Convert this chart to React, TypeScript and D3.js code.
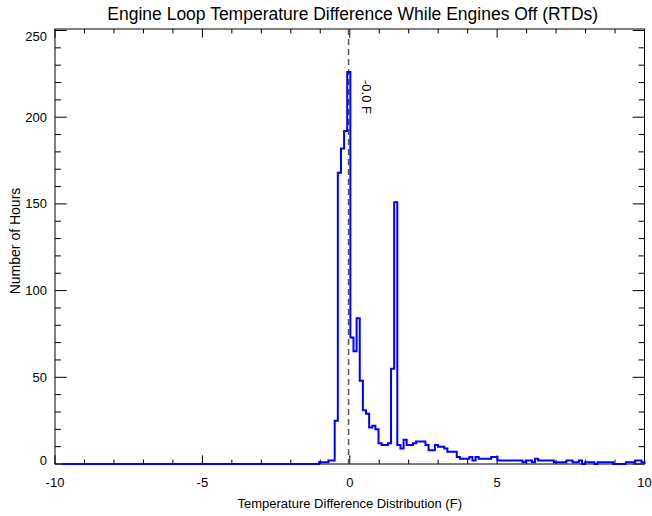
import React, { useEffect, useRef } from 'react';
import * as d3 from 'd3';

// histogram bins (F) and hours per bin
const binStart = -9.75;
const binWidth = 0.1062;
const hours = [
  // -9.75 .. -1.04 : empty
  0, 0, 0, 0, 0, 0, 0, 0, 0, 0, 0, 0, 0, 0, 0, 0, 0, 0, 0, 0,
  0, 0, 0, 0, 0, 0, 0, 0, 0, 0, 0, 0, 0, 0, 0, 0, 0, 0, 0, 0,
  0, 0, 0, 0, 0, 0, 0, 0, 0, 0, 0, 0, 0, 0, 0, 0, 0, 0, 0, 0,
  0, 0, 0, 0, 0, 0, 0, 0, 0, 0, 0, 0, 0, 0, 0, 0, 0, 0, 0, 0,
  0, 0,
  // around zero
  1, 1, 1, 2, 2, 25, 168, 182, 192, 226,
  73, 65, 84, 48, 31, 29, 21, 22, 20, 12,
  11, 11, 12, 55, 151,
  // tail
  11, 9, 14, 11, 11, 12, 13, 13, 13, 11,
  8, 8, 11, 10, 10, 9, 7, 7, 7, 4,
  3, 3, 3, 4, 2, 4, 3, 3, 3, 3,
  4, 4, 2, 2, 2, 2, 2, 2, 2, 2,
  1, 2, 2, 1, 3, 2, 2, 2, 2, 2,
  1, 1, 1, 1, 2, 2, 1, 1, 2, 0,
  1, 1, 1, 0, 1, 1, 1, 1, 1, 0,
  0, 0, 0, 1, 1, 1, 2, 2, 1,
];

const xMajorTicks = [-10, -5, 0, 5, 10];
const yMajorTicks = [0, 50, 100, 150, 200, 250];
const medianValue = -0.04;
const medianLabel = '-0.0 F';

const title = 'Engine Loop Temperature Difference While Engines Off (RTDs)';
const xTitle = 'Temperature Difference Distribution (F)';
const yTitle = 'Number of Hours';

const App = () => {
  const svgRef = useRef<SVGSVGElement>(null);

  useEffect(() => {
    const svg = d3.select(svgRef.current);
    svg.selectAll('*').remove();

    const font = 'Liberation Sans, Arial, Helvetica, sans-serif';
    const left = 55;
    const right = 644.5;
    const top = 29;
    const bottom = 464;

    const x = d3.scaleLinear().domain([-10, 10]).range([left, right]);
    const y = d3.scaleLinear().domain([0, 250]).range([bottom, 30.5]);

    // frame
    svg.append('rect')
      .attr('x', left)
      .attr('y', top)
      .attr('width', right - left)
      .attr('height', bottom - top)
      .attr('fill', 'none')
      .attr('stroke', 'black')
      .attr('stroke-width', 1);

    // x ticks (bottom and top)
    const xTicks = d3.range(-10, 11, 1);
    const xLen = (v: number) => (v % 5 === 0 ? 8.7 : 4.4);
    svg.append('g').selectAll('line')
      .data(xTicks)
      .enter().append('line')
      .attr('x1', d => x(d)).attr('x2', d => x(d))
      .attr('y1', bottom).attr('y2', d => bottom - xLen(d))
      .attr('stroke', 'black');
    svg.append('g').selectAll('line')
      .data(xTicks)
      .enter().append('line')
      .attr('x1', d => x(d)).attr('x2', d => x(d))
      .attr('y1', top).attr('y2', d => top + xLen(d))
      .attr('stroke', 'black');

    // y ticks (left and right)
    const yTicks = d3.range(0, 251, 10);
    const yLen = (v: number) => (v % 50 === 0 ? 11.8 : 5.9);
    svg.append('g').selectAll('line')
      .data(yTicks)
      .enter().append('line')
      .attr('x1', left).attr('x2', d => left + yLen(d))
      .attr('y1', d => y(d)).attr('y2', d => y(d))
      .attr('stroke', 'black');
    svg.append('g').selectAll('line')
      .data(yTicks)
      .enter().append('line')
      .attr('x1', right).attr('x2', d => right - yLen(d))
      .attr('y1', d => y(d)).attr('y2', d => y(d))
      .attr('stroke', 'black');

    // tick labels
    svg.append('g').selectAll('text')
      .data(xMajorTicks)
      .enter().append('text')
      .attr('x', d => x(d))
      .attr('y', 487)
      .attr('text-anchor', 'middle')
      .style('font-family', font)
      .style('font-size', '13px')
      .text(d => d);

    svg.append('g').selectAll('text')
      .data(yMajorTicks)
      .enter().append('text')
      .attr('x', 47)
      .attr('y', d => Math.min(460, Math.max(36, y(d))))
      .attr('dy', '0.35em')
      .attr('text-anchor', 'end')
      .style('font-family', font)
      .style('font-size', '13px')
      .text(d => d);

    // median marker
    svg.append('line')
      .attr('x1', x(medianValue)).attr('x2', x(medianValue))
      .attr('y1', top).attr('y2', bottom)
      .attr('stroke', '#555')
      .attr('stroke-width', 1.5)
      .attr('stroke-dasharray', '6,4');

    svg.append('text')
      .attr('transform', `translate(${x(medianValue) + 13},80) rotate(90)`)
      .style('font-family', font)
      .style('font-size', '13px')
      .text(medianLabel);

    // histogram steps
    const points: [number, number][] = [[binStart, 0]];
    hours.forEach((h, i) => points.push([binStart + i * binWidth, h]));
    points.push([binStart + hours.length * binWidth, 0]);

    const line = d3.line<[number, number]>()
      .x(d => x(d[0]))
      .y(d => y(d[1]))
      .curve(d3.curveStepAfter);

    svg.append('path')
      .datum(points)
      .attr('d', line)
      .attr('fill', 'none')
      .attr('stroke', '#0000ff')
      .attr('stroke-width', 2);

    // titles
    svg.append('text')
      .attr('x', (left + right) / 2 + 3)
      .attr('y', 20)
      .attr('text-anchor', 'middle')
      .style('font-family', font)
      .style('font-size', '17.5px')
      .text(title);

    svg.append('text')
      .attr('x', (left + right) / 2)
      .attr('y', 508)
      .attr('text-anchor', 'middle')
      .style('font-family', font)
      .style('font-size', '13px')
      .text(xTitle);

    svg.append('text')
      .attr('transform', `translate(20,241) rotate(-90)`)
      .attr('text-anchor', 'middle')
      .style('font-family', font)
      .style('font-size', '14px')
      .text(yTitle);
  }, []);

  return (
    <svg
      ref={svgRef}
      width={652}
      height={516}
      style={{ position: 'absolute', left: 0, top: 0, background: 'white' }}
    />
  );
};

export default App;
